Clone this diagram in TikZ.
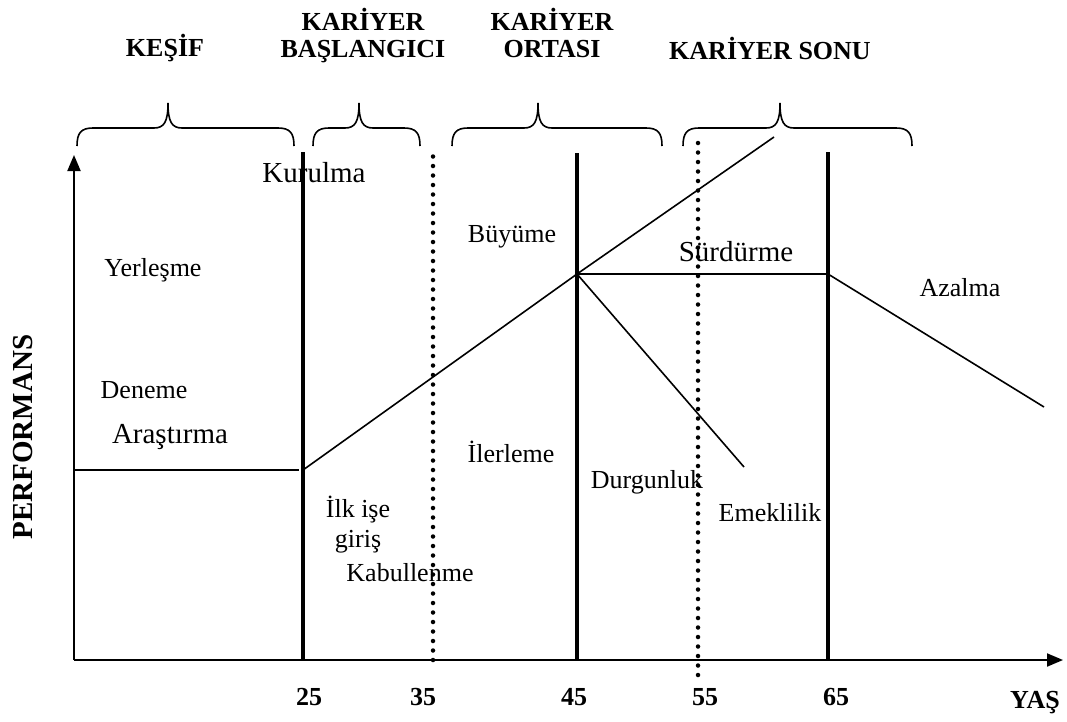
\documentclass[tikz,border=0pt]{standalone}
\usepackage{fontspec}
\setmainfont{Liberation Serif}
\usetikzlibrary{arrows.meta}

% curly brace over a career stage: left end, tip, right end
\newcommand{\kbrace}[3]{%
  \draw[brace] (#1,146) .. controls (#1,133) and (#1+4,128) .. (#1+16,128)
    -- (#2-14,128) .. controls (#2-4,128) and (#2,122) .. (#2,103)
    .. controls (#2,122) and (#2+4,128) .. (#2+14,128)
    -- (#3-16,128) .. controls (#3-4,128) and (#3,133) .. (#3,146);}

\begin{document}
\begin{tikzpicture}[
  x=1pt, y=-1pt,
  heading/.style={
    font=\bfseries\fontsize{26}{27}\selectfont, align=center, inner sep=0pt
  },
  phase/.style={font=\fontsize{26}{30}\selectfont, align=center, inner sep=0pt},
  bigphase/.style={font=\fontsize{29}{32}\selectfont, inner sep=0pt},
  agelabel/.style={font=\bfseries\fontsize{26}{30}\selectfont, inner sep=0pt},
  axislabel/.style={font=\bfseries\fontsize{29}{32}\selectfont, inner sep=0pt},
  axis/.style={line width=2pt, -{Triangle[length=16pt, width=13pt]}},
  stageline/.style={line width=4pt},
  dotline/.style={line width=4.5pt, line cap=round, dash pattern=on 0pt off 9.5pt},
  path/.style={line width=1.6pt},
  brace/.style={line width=1.6pt},
]
\useasboundingbox (0,0) rectangle (1067,721);

%% ── Stage headings and braces ───────────────────────────────────────────────
\node[heading] (kesif)     at (165,48) {KEŞİF};
\node[heading, anchor=north] (baslangic) at (363,8.5) {KARİYER\\BAŞLANGICI};
\node[heading, anchor=north] (ortasi)    at (552,8.5) {KARİYER\\ORTASI};
\node[heading] (sonu)      at (770,48) {KARİYER SONU};

\kbrace{77}{168}{294}
\kbrace{313}{359}{420}
\kbrace{452}{538}{662}
\kbrace{683}{780}{912}

%% ── Axes ────────────────────────────────────────────────────────────────────
\coordinate (origin) at (74,660);
\coordinate (ytop)   at (74,155);
\coordinate (xend)   at (1063,660);
\draw[axis] (origin) -- (ytop);
\draw[axis] (origin) -- (xend);

\node[axislabel, rotate=90] (perf) at (23,437) {PERFORMANS};
\node[agelabel] (yas) at (1035,703) {YAŞ};

\node[agelabel] (y25) at (309,697) {25};
\node[agelabel] (y35) at (423,697) {35};
\node[agelabel] (y45) at (574,697) {45};
\node[agelabel] (y55) at (705,697) {55};
\node[agelabel] (y65) at (836,697) {65};

%% ── Phase labels ────────────────────────────────────────────────────────────
\node[phase]    (yerlesme)  at (153,270) {Yerleşme};
\node[phase]    (deneme)    at (144,390) {Deneme};
\node[bigphase] (arastirma) at (170,437) {Araştırma};
\node[bigphase] (kurulma)   at (314,173) {Kurulma};
\node[phase]    (ilkis)     at (358,525) {İlk işe\\giriş};
\node[phase]    (kabul)     at (410,573) {Kabullenme};
\node[phase]    (buyume)    at (512,237) {Büyüme};
\node[phase]    (ilerleme)  at (511,452) {İlerleme};
\node[bigphase] (surdurme)  at (736,252) {Sürdürme};
\node[phase]    (durgunluk) at (647,482) {Durgunluk};
\node[phase]    (emeklilik) at (770,513) {Emeklilik};
\node[phase]    (azalma)    at (960,288) {Azalma};

%% ── Age boundaries ──────────────────────────────────────────────────────────
\coordinate (b25) at (303,660);  \coordinate (t25) at (303,152);
\coordinate (b35) at (433,660);  \coordinate (t35) at (433,154);
\coordinate (b45) at (577,660);  \coordinate (t45) at (577,153);
\coordinate (b55) at (698,675);  \coordinate (t55) at (698,136);
\coordinate (b65) at (828,660);  \coordinate (t65) at (828,152);
\draw[stageline] (b25) -- (t25);
\draw[dotline]   (b35) -- (t35);
\draw[stageline] (b45) -- (t45);
\draw[dotline]   (b55) -- (t55);
\draw[stageline] (b65) -- (t65);

%% ── Performance curve ───────────────────────────────────────────────────────
\coordinate (start) at (74,470);
\coordinate (entry) at (299,470);
\coordinate (kstart) at (303,470);
\coordinate (peak) at (577,274);
\coordinate (rise) at (774,137);
\coordinate (hold) at (828,274);
\coordinate (decline) at (1044,407);
\coordinate (stall) at (744,467);
\draw[path] (start) -- (entry);
\draw[path] (kstart) -- (peak) -- (rise);
\draw[path] (peak) -- (hold) -- (decline);
\draw[path] (peak) -- (stall);

\end{tikzpicture}
\end{document}
